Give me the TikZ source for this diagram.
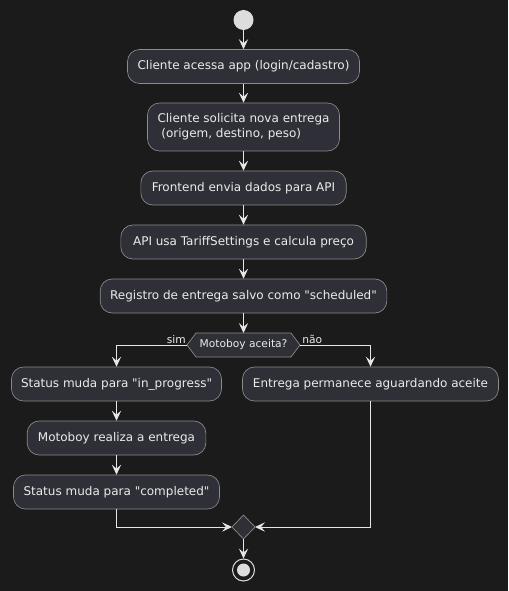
\documentclass[tikz,border=0pt]{standalone}
\usepackage{fontspec}
\setmainfont{DejaVu Sans}[Ligatures=TeXOff]
\usetikzlibrary{arrows.meta}
\definecolor{bgc}{RGB}{27,27,27}
\definecolor{boxfill}{RGB}{47,47,56}
\definecolor{boxline}{RGB}{140,140,140}
\definecolor{txt}{RGB}{235,235,235}
\definecolor{wire}{RGB}{230,230,230}
\definecolor{dot}{RGB}{221,221,221}
\tikzset{
  x=0.75pt, y=-0.75pt,
  act/.style={draw=boxline, line width=0.5pt, fill=boxfill, rounded corners=9pt,
    text=txt, font=\fontsize{9}{11}\selectfont, inner sep=0pt, minimum height=25.5pt},
  lbl/.style={text=txt, font=\fontsize{8}{10}\selectfont, inner sep=0pt},
  wirestyle/.style={draw=wire, line width=0.75pt},
  arr/.style={wirestyle, -{Stealth[length=7.5pt, width=7pt, inset=3pt]}},
}
\begin{document}
\begin{tikzpicture}
\fill[bgc] (0,0) rectangle (508,591);
\useasboundingbox (0,0) rectangle (508,591);

\node[circle, fill=dot, minimum size=15pt, inner sep=0pt] (start) at (243.5,20) {};
\node[act, minimum width=174pt] (n1) at (243.5,66.5) {Cliente acessa app (login/cadastro)};
\node[act, minimum width=144pt, minimum height=36pt, align=left] (n2) at (243.5,127) {Cliente solicita nova entrega\\\ (origem, destino, peso)};
\node[act, minimum width=154pt] (n3) at (243.5,188) {Frontend envia dados para API};
\node[act, minimum width=184pt] (n4) at (243.5,242) {API usa TariffSettings e calcula preço};
\node[act, minimum width=215pt] (n5) at (243.5,296) {Registro de entrega salvo como "scheduled"};

\coordinate (dl) at (187,345);
\coordinate (dr) at (300,345);
\coordinate (dt) at (243.5,333);
\draw[draw=boxline, line width=0.5pt, fill=boxfill] (dl) -- (196,333) -- (291,333) -- (dr) -- (291,357) -- (196,357) -- cycle;
\node[lbl] (dq) at (243.5,345) {Motoboy aceita?};
\node[lbl, anchor=south east] (sim) at (186,344) {sim};
\node[lbl, anchor=south west] (nao) at (302,344) {não};

\node[act, minimum width=157.5pt] (n6) at (116.5,384) {Status muda para "in\_progress"};
\node[act, minimum width=192pt] (nr) at (370.5,384) {Entrega permanece aguardando aceite};
\node[act, minimum width=134pt] (n7) at (116.5,438) {Motoboy realiza a entrega};
\node[act, minimum width=154.5pt] (n8) at (116.5,492) {Status muda para "completed"};

\coordinate (ml) at (232,527);
\coordinate (mr) at (255,527);
\coordinate (mb) at (243.5,539);
\draw[draw=boxline, line width=0.5pt, fill=boxfill] (ml) -- (243.5,515) -- (mr) -- (mb) -- cycle;

\node[circle, draw=dot, line width=0.75pt, minimum size=16.5pt, inner sep=0pt] (stop) at (243.5,570) {};
\fill[dot] (stop.center) circle (6.5);

\draw[arr] (start) -- (n1);
\draw[arr] (n1) -- (n2);
\draw[arr] (n2) -- (n3);
\draw[arr] (n3) -- (n4);
\draw[arr] (n4) -- (n5);
\draw[arr] (n5.south) -- (dt);
\draw[arr] (dl) -| (n6.north);
\draw[arr] (dr) -| (nr.north);
\draw[arr] (n6) -- (n7);
\draw[arr] (n7) -- (n8);
\draw[arr] (n8.south) |- (ml);
\draw[arr] (nr.south) |- (mr);
\draw[arr] (mb) -- (stop.north);
\end{tikzpicture}
\end{document}
